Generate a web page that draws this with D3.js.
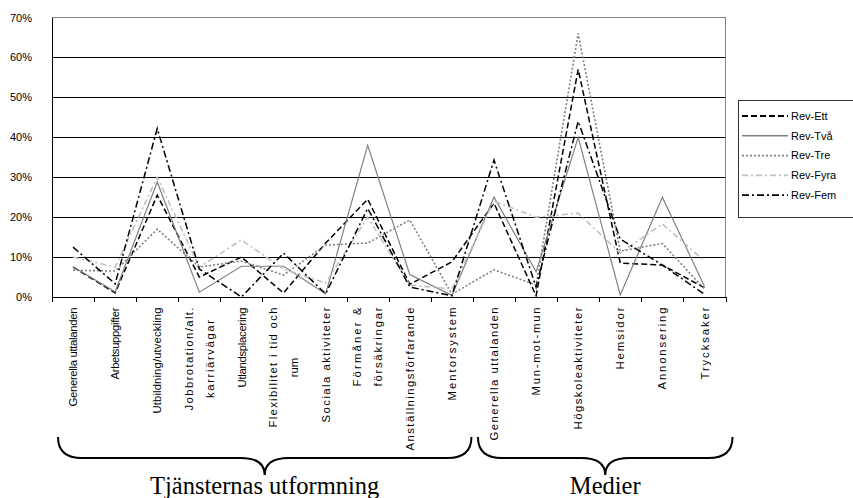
<!DOCTYPE html>
<html>
<head>
<meta charset="utf-8">
<script src="https://cdn.jsdelivr.net/npm/d3@7"></script>
<style>
  html, body { margin: 0; padding: 0; background: #fff; }
  svg { display: block; }
</style>
</head>
<body>
<svg id="chart" width="853" height="498"></svg>
<script>
// Category labels (one entry per line of the axis label)
const categories = [
  ["Generella uttalanden"],
  ["Arbetsuppgifter"],
  ["Utbildning/utveckling"],
  ["Jobbrotation/alt.", "karriärvägar"],
  ["Utlandsplacering"],
  ["Flexibilitet i tid och", "rum"],
  ["Sociala aktiviteter"],
  ["Förmåner &", "försäkringar"],
  ["Anställningsförfarande"],
  ["Mentorsystem"],
  ["Generella uttalanden"],
  ["Mun-mot-mun"],
  ["Högskoleaktiviteter"],
  ["Hemsidor"],
  ["Annonsering"],
  ["Trycksaker"]
];

// Share of mentions per category, in percent
const revEtt  = [7.5, 1.0, 25.5, 5.0, 10.0, 1.0, 13.5, 24.5, 3.2, 8.8, 23.5, 0.3, 57.0, 8.5, 8.0, 2.3];
const revTva  = [7.6, 1.3, 28.8, 1.2, 7.7, 7.7, 0.8, 38.0, 5.6, 0.4, 25.0, 6.3, 40.0, 0.5, 25.0, 2.7];
const revTre  = [6.7, 6.5, 17.0, 7.5, 9.0, 5.5, 13.0, 13.5, 19.3, 0.7, 6.8, 3.0, 66.0, 11.5, 13.4, 2.0];
const revFyra = [10.0, 7.5, 30.0, 7.5, 14.3, 7.0, 3.5, 20.0, 3.0, 2.0, 24.0, 20.0, 21.0, 11.0, 18.3, 9.0];
const revFem  = [12.5, 3.3, 42.2, 7.0, 0.0, 11.0, 0.8, 22.2, 2.5, 0.3, 34.3, 2.5, 44.0, 14.5, 8.0, 0.7];

const seriesNames = ["Rev-Ett", "Rev-Två", "Rev-Tre", "Rev-Fyra", "Rev-Fem"];
const seriesValues = [revEtt, revTva, revTre, revFyra, revFem];

const yTicks = [0, 10, 20, 30, 40, 50, 60, 70];

// Category groups shown with braces under the axis labels
const groupNames = ["Tjänsternas utformning", "Medier"];
const groupFirst = [0, 10];
const groupLast  = [9, 15];

// ---- drawing ----
const svg = d3.select("#chart");
const sans = "'Liberation Sans', Arial, Helvetica, sans-serif";
const serif = "'Liberation Serif', 'Times New Roman', Times, serif";

const plot = { left: 52, right: 725.5, top: 17.5, bottom: 297 };

const x = d3.scaleBand()
  .domain(d3.range(categories.length))
  .range([plot.left, plot.right])
  .padding(0);
const xEdge = d3.scaleLinear()
  .domain([0, categories.length])
  .range([plot.left, plot.right]);
const y = d3.scaleLinear().domain([0, 70]).range([plot.bottom, plot.top]);

const styles = [
  { color: "#000000", width: 1.5, dash: "6,3" },
  { color: "#808080", width: 1.2, dash: null },
  { color: "#808080", width: 1.6, dash: "2,2" },
  { color: "#c0c0c0", width: 1.6, dash: "6,3,2,3" },
  { color: "#000000", width: 1.5, dash: "7,3,2,3" }
];

// Horizontal gridlines
svg.append("g")
  .attr("transform", `translate(${plot.left},0)`)
  .call(d3.axisLeft(y).tickValues(yTicks.slice(1, -1)).tickSize(-(plot.right - plot.left)).tickFormat(""))
  .call(g => g.select(".domain").remove())
  .call(g => g.selectAll("line").attr("stroke", "#000").attr("shape-rendering", "crispEdges"));

// Plot-area border (top and right)
svg.append("path")
  .attr("d", `M${plot.left},${plot.top}H${plot.right}V${plot.bottom}`)
  .attr("fill", "none").attr("stroke", "#808080").attr("stroke-width", 1)
  .attr("shape-rendering", "crispEdges");

// Y axis with percent labels
svg.append("g")
  .attr("transform", `translate(${plot.left},0)`)
  .call(d3.axisLeft(y).tickValues(yTicks).tickSize(0).tickPadding(20).tickFormat(d => d + "%"))
  .call(g => g.select(".domain").attr("stroke", "#000").attr("shape-rendering", "crispEdges"))
  .call(g => g.selectAll("text").attr("font-family", sans).attr("font-size", 11).attr("fill", "#000"));

// X axis line with tick marks between categories
svg.append("g")
  .attr("transform", `translate(0,${plot.bottom})`)
  .call(d3.axisBottom(xEdge).tickValues(d3.range(categories.length + 1)).tickSizeInner(5).tickSizeOuter(0).tickFormat(""))
  .call(g => g.select(".domain").attr("stroke", "#000").attr("shape-rendering", "crispEdges"))
  .call(g => g.selectAll(".tick line").attr("stroke", "#000").attr("shape-rendering", "crispEdges"));

// Series lines
const line = d3.line()
  .x((d, i) => x(i) + x.bandwidth() / 2)
  .y(d => y(d));

svg.append("g").selectAll("path")
  .data(seriesValues)
  .join("path")
  .attr("d", d => line(d))
  .attr("fill", "none")
  .attr("stroke", (d, i) => styles[i].color)
  .attr("stroke-width", (d, i) => styles[i].width)
  .attr("stroke-dasharray", (d, i) => styles[i].dash)
  .attr("stroke-linejoin", "miter");

// Rotated category labels; letter spacing is set so each line spans this many pixels
const labelSpan = [
  [99], [72], [106], [103, 78], [80], [120, null], [115], [79, 79], [143], [93],
  [133], [88], [122], [62], [82], [72]
];
const labelTop = 307.5;
const lineGap = 21;
const labels = svg.append("g")
  .attr("font-family", sans)
  .attr("font-size", 11.3)
  .attr("fill", "#000");

categories.forEach((lines, i) => {
  const cx = x(i) + x.bandwidth() / 2;
  const spans = labelSpan[i];
  const texts = lines.map((txt, k) => {
    const t = labels.append("text")
      .attr("text-anchor", "middle")
      .attr("dy", "0.36em")
      .text(txt);
    if (spans[k] != null) t.attr("textLength", spans[k]).attr("lengthAdjust", "spacing");
    return t;
  });
  const block = d3.max(texts, (t, k) => spans[k] != null ? spans[k] : t.node().getComputedTextLength());
  const cy = labelTop + block / 2;
  texts.forEach((t, k) => {
    const lx = cx + (k - (lines.length - 1) / 2) * lineGap;
    t.attr("transform", `translate(${lx},${cy}) rotate(-90)`);
  });
});

// Group braces and captions
function bracePath(x1, x2, yTop, yMid, yTip) {
  const xm = (x1 + x2) / 2;
  const r = 24;
  return `M${x1},${yTop} Q${x1},${yMid} ${x1 + r},${yMid} L${xm - r},${yMid} Q${xm},${yMid} ${xm},${yTip}` +
         ` Q${xm},${yMid} ${xm + r},${yMid} L${x2 - r},${yMid} Q${x2},${yMid} ${x2},${yTop}`;
}
const braceInset = [[6, -1.5], [5, 7]];
groupNames.forEach((name, gi) => {
  const x1 = xEdge(groupFirst[gi]) + braceInset[gi][0];
  const x2 = xEdge(groupLast[gi] + 1) + braceInset[gi][1];
  svg.append("path")
    .attr("d", bracePath(x1, x2, 437, 458, 475))
    .attr("fill", "none").attr("stroke", "#000").attr("stroke-width", 2);
  svg.append("text")
    .attr("x", (x1 + x2) / 2).attr("y", 494)
    .attr("text-anchor", "middle")
    .attr("font-family", serif).attr("font-size", 24.5)
    .attr("fill", "#000")
    .text(name);
});

// Legend
const legend = svg.append("g").attr("transform", "translate(738,100)");
legend.append("rect")
  .attr("x", 0.5).attr("y", 0.5).attr("width", 130).attr("height", 117)
  .attr("fill", "#fff").attr("stroke", "#333").attr("stroke-width", 1);
seriesNames.forEach((name, i) => {
  const ly = 16 + i * 19.8;
  legend.append("line")
    .attr("x1", 4).attr("x2", 50).attr("y1", ly).attr("y2", ly)
    .attr("stroke", styles[i].color)
    .attr("stroke-width", styles[i].width + 0.3)
    .attr("stroke-dasharray", styles[i].dash);
  legend.append("text")
    .attr("x", 53).attr("y", ly).attr("dy", "0.35em")
    .attr("font-family", sans).attr("font-size", 11).attr("fill", "#000")
    .text(name);
});
</script>
</body>
</html>
